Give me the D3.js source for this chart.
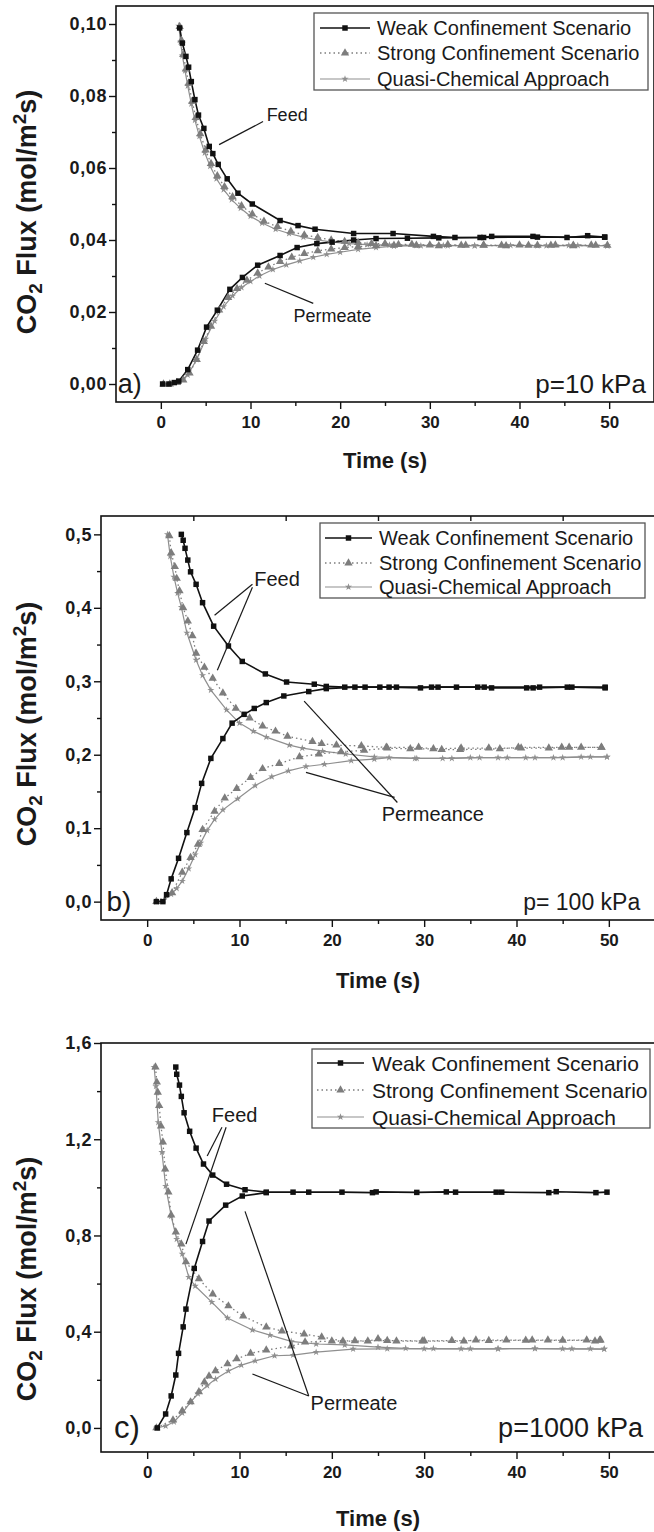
<!DOCTYPE html>
<html>
<head>
<meta charset="utf-8">
<script src="https://cdn.jsdelivr.net/npm/d3@7"></script>
<style>
  body { margin: 0; background: #fff; }
  svg { display: block; font-family: "Liberation Sans", Arial, sans-serif; }
</style>
</head>
<body>
<div id="chart"></div>
<script>
// ---- data: [time (s), CO2 flux (mol/m2 s)] ----
const seriesNames = ['Weak Confinement Scenario', 'Strong Confinement Scenario', 'Quasi-Chemical Approach'];
const xTicks = [0, 10, 20, 30, 40, 50];
const xMinor = [5, 15, 25, 35, 45];

// panel a) p = 10 kPa
const aYTicks = [0, 0.02, 0.04, 0.06, 0.08, 0.10];
const aYMinor = [0.01, 0.03, 0.05, 0.07, 0.09];
const aWeakFeed = [[2.1,0.0989],[2.4,0.0947],[2.8,0.091],[3.1,0.088],[3.4,0.084],[3.8,0.079],[4.2,0.0747],[4.8,0.071],[5.4,0.066],[5.8,0.064],[6.4,0.061],[7.4,0.057],[8.6,0.053],[10.2,0.050],[13.3,0.0454],[15.3,0.044],[17.2,0.043],[21.5,0.0418],[25.9,0.0418],[30.4,0.041],[32.8,0.0407],[35.6,0.0407],[36.9,0.041],[41.5,0.041],[45.3,0.0407],[47.6,0.0412],[49.5,0.0408]];
const aWeakPerm = [[0.2,0],[0.9,0],[1.5,0.0004],[2.0,0.0008],[3.0,0.004],[4.1,0.0094],[5.1,0.0158],[6.3,0.0205],[7.7,0.0263],[9.1,0.0296],[10.8,0.033],[13.3,0.0357],[15.2,0.0379],[17.4,0.039],[19.1,0.0394],[21.5,0.040],[24.0,0.0404],[27.5,0.0405],[31.0,0.0406],[36.0,0.0407],[42.0,0.0408],[49.5,0.0408]];
const aStrongFeed = [[2.1,0.0993],[2.3,0.0955],[2.5,0.0915],[2.8,0.0875],[3.1,0.0835],[3.5,0.0785],[3.9,0.074],[4.4,0.0695],[5.0,0.065],[5.6,0.0612],[6.3,0.0578],[7.1,0.0548],[8.0,0.052],[9.0,0.0495],[10.2,0.0472],[11.5,0.0452],[13.0,0.0437],[14.5,0.0424],[16.0,0.0414],[17.5,0.0407],[19.0,0.040],[20.5,0.0396],[22.0,0.0393],[23.5,0.039],[25.0,0.039],[26.5,0.0387],[28.0,0.0388],[30.0,0.0386],[32.0,0.0387],[34.0,0.0385],[36.0,0.0386],[38.0,0.0385],[40.0,0.0386],[42.0,0.0385],[44.0,0.0386],[46.0,0.0385],[48.0,0.0386],[49.8,0.0385]];
const aStrongPerm = [[0.3,0],[1.0,0],[1.8,0.0004],[2.5,0.0011],[3.2,0.003],[4.0,0.0068],[4.8,0.0118],[5.6,0.016],[6.5,0.0205],[7.5,0.024],[8.5,0.0265],[9.6,0.0288],[10.8,0.0308],[12.0,0.0325],[13.3,0.034],[14.6,0.0352],[16.0,0.0362],[17.5,0.037],[19.0,0.0375],[20.5,0.0379],[22.0,0.0382],[24.0,0.0384],[26.0,0.0385],[28.5,0.0385],[31.0,0.0384],[33.5,0.0385],[36.0,0.0385],[38.5,0.0384],[41.0,0.0385],[43.5,0.0385],[46.0,0.0384],[48.5,0.0385]];
const aQuasiFeed = [[2.0,0.0995],[2.2,0.095],[2.4,0.0912],[2.7,0.087],[3.0,0.0828],[3.4,0.0778],[3.8,0.0733],[4.3,0.0688],[4.9,0.0642],[5.5,0.0605],[6.2,0.057],[7.0,0.054],[7.9,0.0512],[8.9,0.0488],[10.0,0.0466],[11.3,0.0447],[12.8,0.043],[14.3,0.0418],[15.9,0.0408],[17.5,0.040],[19.2,0.0394],[21.0,0.039],[23.0,0.0387],[25.5,0.0386],[28.5,0.0385],[31.5,0.0385],[35.0,0.0384],[38.5,0.0385],[42.0,0.0384],[45.5,0.0385],[49.8,0.0384]];
const aQuasiPerm = [[0.3,0],[1.0,0],[2.0,0.0005],[3.0,0.0025],[4.0,0.0068],[5.0,0.0125],[6.0,0.0175],[7.0,0.0215],[8.0,0.0245],[9.0,0.0268],[10.0,0.0285],[11.0,0.030],[12.5,0.0318],[14.0,0.0331],[15.5,0.0342],[17.0,0.0352],[18.5,0.036],[20.0,0.0366],[22.0,0.0374],[24.0,0.0379],[26.0,0.0383],[29.0,0.0384],[32.0,0.0384],[35.0,0.0384],[39.0,0.0385],[43.0,0.0384],[46.5,0.0385],[49.8,0.0384]];
const aLabels = [['Feed', 11.8, 0.0748], ['Permeate', 14.8, 0.0188]];
const aLeaders = [[[6.5,0.0665],[11.4,0.0729]], [[11.6,0.028],[17.0,0.0224]]];

// panel b) p = 100 kPa
const bYTicks = [0, 0.1, 0.2, 0.3, 0.4, 0.5];
const bYMinor = [0.05, 0.15, 0.25, 0.35, 0.45];
const bWeakFeed = [[3.7,0.500],[3.9,0.492],[4.1,0.481],[4.4,0.465],[4.7,0.449],[5.3,0.432],[6.0,0.407],[7.2,0.375],[8.8,0.348],[10.3,0.327],[12.8,0.310],[15.1,0.299],[18.1,0.296],[19.4,0.293],[21.4,0.292],[23.6,0.292],[25.2,0.292],[26.2,0.292],[29.6,0.291],[30.8,0.292],[33.5,0.292],[35.8,0.292],[37.3,0.291],[41.1,0.291],[41.8,0.291],[45.5,0.292],[46.0,0.292],[49.6,0.291]];
const bWeakPerm = [[1.0,0],[1.7,0],[2.1,0.0095],[2.6,0.031],[3.4,0.059],[4.3,0.094],[5.2,0.128],[5.9,0.161],[6.9,0.195],[8.2,0.222],[9.2,0.243],[10.5,0.255],[11.6,0.263],[12.9,0.271],[14.8,0.280],[17.5,0.286],[19.4,0.290],[22.5,0.292],[27.0,0.292],[31.5,0.292],[36.5,0.292],[42.5,0.292],[49.6,0.292]];
const bStrongFeed = [[2.4,0.498],[2.6,0.475],[3.0,0.456],[3.2,0.440],[3.5,0.423],[3.9,0.400],[4.4,0.382],[4.9,0.362],[5.3,0.338],[6.2,0.319],[7.1,0.304],[8.2,0.284],[9.6,0.263],[11.1,0.250],[12.5,0.239],[13.9,0.232],[15.2,0.225],[17.9,0.218],[18.9,0.215],[20.5,0.213],[23.2,0.212],[25.9,0.210],[29.4,0.210],[31.9,0.207],[33.9,0.207],[38.2,0.208],[40.2,0.210],[44.9,0.210],[45.7,0.210],[49.2,0.210]];
const bStrongPerm = [[1.0,0],[2.7,0.012],[3.8,0.040],[4.7,0.060],[5.5,0.078],[6.0,0.098],[7.3,0.123],[8.4,0.141],[9.7,0.154],[11.2,0.169],[12.5,0.181],[14.3,0.188],[16.5,0.197],[18.6,0.201],[21.0,0.204],[23.5,0.206],[26.0,0.209],[28.5,0.208],[31.0,0.208],[34.0,0.209],[37.0,0.209],[40.5,0.209],[43.5,0.209],[47.0,0.210],[49.2,0.210]];
const bQuasiFeed = [[2.2,0.500],[2.5,0.470],[2.9,0.442],[3.3,0.420],[3.7,0.401],[4.3,0.366],[5.3,0.329],[6.0,0.308],[6.9,0.288],[8.6,0.261],[10.0,0.243],[11.5,0.232],[12.9,0.224],[15.4,0.213],[16.8,0.209],[19.0,0.205],[21.5,0.201],[24.6,0.197],[29.2,0.195],[33.0,0.195],[36.0,0.196],[39.0,0.196],[42.0,0.196],[45.0,0.196],[48.0,0.197],[49.8,0.197]];
const bQuasiPerm = [[1.0,0],[1.8,0.002],[2.6,0.010],[3.2,0.018],[3.8,0.028],[4.5,0.045],[5.2,0.064],[5.8,0.080],[6.5,0.097],[7.3,0.112],[8.2,0.125],[9.8,0.140],[11.7,0.158],[13.5,0.170],[15.3,0.178],[17.2,0.184],[19.2,0.187],[22.1,0.192],[24.6,0.194],[26.2,0.196],[29.0,0.195],[32.0,0.195],[35.0,0.196],[38.0,0.196],[41.0,0.196],[44.0,0.196],[47.0,0.197],[49.8,0.197]];
const bLabels = [['Feed', 11.6, 0.439], ['Permeance', 25.4, 0.119]];
const bLeaders = [[[11.4,0.432],[7.3,0.390]], [[11.4,0.428],[7.6,0.315]], [[27.1,0.135],[17.0,0.273]], [[26.8,0.142],[17.2,0.176]]];

// panel c) p = 1000 kPa
const cYTicks = [0, 0.4, 0.8, 1.2, 1.6];
const cYMinor = [0.2, 0.6, 1.0, 1.4];
const cWeakFeed = [[3.1,1.500],[3.2,1.470],[3.5,1.425],[3.7,1.378],[4.0,1.310],[4.6,1.233],[5.3,1.163],[6.1,1.097],[7.1,1.051],[8.6,1.013],[10.6,0.990],[12.9,0.980],[15.8,0.980],[17.5,0.980],[21.1,0.980],[24.4,0.978],[24.8,0.981],[29.2,0.979],[32.4,0.981],[33.4,0.980],[37.8,0.980],[38.4,0.980],[43.5,0.978],[44.3,0.982],[48.6,0.978],[49.8,0.980]];
const cWeakPerm = [[1.1,0],[2.0,0.058],[2.6,0.133],[3.1,0.220],[3.4,0.310],[3.9,0.420],[4.2,0.494],[5.1,0.663],[6.0,0.775],[6.7,0.860],[8.5,0.926],[10.3,0.964],[12.9,0.978]];
const cStrongFeed = [[0.9,1.500],[1.05,1.437],[1.15,1.395],[1.3,1.340],[1.5,1.255],[1.7,1.188],[1.95,1.076],[2.3,0.980],[2.6,0.885],[3.1,0.814],[3.7,0.764],[4.2,0.690],[5.6,0.620],[7.1,0.556],[8.8,0.507],[10.4,0.465],[12.9,0.419],[14.6,0.403],[17.0,0.390],[18.9,0.378],[21.2,0.361],[23.9,0.361],[25.0,0.370],[27.0,0.361],[29.8,0.361],[34.3,0.361],[35.6,0.365],[38.9,0.365],[41.7,0.365],[43.4,0.365],[47.6,0.365],[48.5,0.361],[49.1,0.365]];
const cStrongPerm = [[1.0,0],[2.8,0.033],[3.8,0.071],[4.7,0.108],[5.6,0.150],[6.2,0.191],[6.7,0.216],[7.4,0.237],[8.7,0.266],[9.7,0.287],[11.2,0.310],[12.9,0.324],[15.6,0.340],[17.1,0.357],[20.0,0.361],[22.5,0.362],[26.0,0.363],[30.0,0.362],[33.0,0.363],[37.0,0.363],[41.0,0.364],[45.0,0.364],[49.0,0.364]];
const cQuasiFeed = [[0.75,1.500],[0.95,1.420],[1.2,1.270],[1.6,1.146],[2.0,1.005],[2.6,0.880],[3.2,0.785],[3.8,0.723],[4.5,0.627],[5.2,0.590],[7.0,0.523],[8.7,0.457],[11.4,0.407],[13.3,0.386],[15.6,0.360],[18.3,0.349],[21.4,0.345],[25.0,0.336],[28.0,0.331],[31.0,0.330],[35.0,0.329],[38.0,0.329],[42.0,0.330],[45.0,0.329],[48.0,0.329],[49.5,0.328]];
const cQuasiPerm = [[1.0,0],[2.0,0.008],[2.9,0.025],[3.8,0.062],[4.7,0.107],[5.5,0.142],[6.5,0.176],[7.4,0.203],[8.8,0.237],[10.2,0.261],[11.7,0.279],[13.8,0.300],[15.8,0.303],[18.3,0.315],[22.3,0.328],[26.0,0.329],[30.0,0.329],[34.0,0.329],[38.0,0.329],[42.0,0.330],[46.0,0.329],[49.5,0.328]];
const cLabels = [['Feed', 7.0, 1.30], ['Permeate', 17.7, 0.104]];
const cLeaders = [[[8.1,1.25],[6.5,1.13]], [[8.55,1.25],[4.2,0.764]], [[17.5,0.133],[11.4,0.224]], [[17.5,0.133],[10.6,0.90]]];

// ---- layout / styles ----
const W = 654, H = 1532;
const colors = { weak: '#111', strong: '#7d7d7d', quasi: '#8f8f8f', text: '#1a1a1a', frame: '#111', legend: '#555' };

const panels = [
  { frame: { left: 116, right: 654, top: 6, bottom: 402 }, yDomain: [-0.005, 0.105], yTicks: aYTicks, yMinor: aYMinor, digits: 2,
    weak: [aWeakFeed, aWeakPerm], strong: [aStrongFeed, aStrongPerm], quasi: [aQuasiFeed, aQuasiPerm],
    labels: aLabels, leaders: aLeaders, noteSize: 18, topTicks: false,
    tag: 'a)', tagX: -4.8, tagSize: 27, pText: 'p=10 kPa', pSize: 26, pX: 54.1,
    legend: { x: 314, y: 13, w: 334, h: 77, rows: [15, 40, 66], textX: 63, s0: 6, s1: 56, font: 20 },
    titleY: 212, xTitleY: 460 },
  { frame: { left: 101, right: 655, top: 516, bottom: 920 }, yDomain: [-0.025, 0.525], yTicks: bYTicks, yMinor: bYMinor, digits: 1,
    weak: [bWeakFeed, bWeakPerm], strong: [bStrongFeed, bStrongPerm], quasi: [bQuasiFeed, bQuasiPerm],
    labels: bLabels, leaders: bLeaders, noteSize: 20, topTicks: true,
    tag: 'b)', tagX: -4.4, tagSize: 28, pText: 'p= 100 kPa', pSize: 23, pX: 53.4,
    legend: { x: 320, y: 523, w: 325, h: 75, rows: [15, 40, 64], textX: 59, s0: 5, s1: 52, font: 20 },
    titleY: 724, xTitleY: 980 },
  { frame: { left: 101, right: 655, top: 1043, bottom: 1452 }, yDomain: [-0.1, 1.6], yTicks: cYTicks, yMinor: cYMinor, digits: 1,
    weak: [cWeakFeed, cWeakPerm], strong: [cStrongFeed, cStrongPerm], quasi: [cQuasiFeed, cQuasiPerm],
    labels: cLabels, leaders: cLeaders, noteSize: 20, topTicks: false,
    tag: 'c)', tagX: -3.6, tagSize: 31, pText: 'p=1000 kPa', pSize: 27, pX: 53.7,
    legend: { x: 312, y: 1049, w: 338, h: 79, rows: [14, 41, 68], textX: 60, s0: 5, s1: 52, font: 21 },
    titleY: 1279, xTitleY: 1518 }
];

const svg = d3.select('#chart').append('svg')
  .attr('width', W).attr('height', H);

function commaFormat(digits) {
  const f = d3.format('.' + digits + 'f');
  return d => f(d).replace('.', ',');
}

const symWeak = d3.symbol().type(d3.symbolSquare).size(30)();
const symStrong = d3.symbol().type(d3.symbolTriangle).size(30)();
const symQuasi = d3.symbol().type(d3.symbolStar).size(16)();

panels.forEach(p => {
  const f = p.frame;
  const x = d3.scaleLinear().domain([-5, 55]).range([f.left, f.right]);
  const y = d3.scaleLinear().domain(p.yDomain).range([f.bottom, f.top]);
  const g = svg.append('g');

  // axes
  g.append('g').attr('class', 'yaxis').attr('transform', `translate(${f.left},0)`)
    .call(d3.axisLeft(y).tickValues(p.yTicks).tickSize(7).tickPadding(2).tickFormat(commaFormat(p.digits)).tickSizeOuter(0));
  g.append('g').attr('transform', `translate(${f.left},0)`)
    .call(d3.axisLeft(y).tickValues(p.yMinor).tickSize(4).tickFormat('').tickSizeOuter(0));
  g.append('g').attr('class', 'xaxis').attr('transform', `translate(0,${f.bottom})`)
    .call(d3.axisBottom(x).tickValues(xTicks).tickSize(7).tickPadding(7).tickSizeOuter(0));
  g.append('g').attr('transform', `translate(0,${f.bottom})`)
    .call(d3.axisBottom(x).tickValues(xMinor).tickSize(4).tickFormat('').tickSizeOuter(0));
  if (p.topTicks) {
    g.append('g').attr('transform', `translate(0,${f.top})`)
      .call(d3.axisBottom(x).tickValues(xMinor).tickSize(5).tickFormat('').tickSizeOuter(0));
  }
  g.selectAll('.domain').remove();
  g.selectAll('.tick line').attr('stroke', colors.frame).attr('stroke-width', 1.4);
  g.selectAll('.tick text').attr('font-weight', 'bold').attr('fill', colors.text)
    .attr('font-family', '"Liberation Sans", Arial, sans-serif');
  g.selectAll('.xaxis .tick text').attr('font-size', 17);
  g.selectAll('.yaxis .tick text').attr('font-size', 18).attr('letter-spacing', 0.6);

  // frame
  g.append('rect')
    .attr('x', f.left).attr('y', f.top)
    .attr('width', f.right - f.left).attr('height', f.bottom - f.top)
    .attr('fill', 'none').attr('stroke', colors.frame).attr('stroke-width', 1.6);

  // axis titles
  g.append('text')
    .attr('x', (f.left + f.right) / 2).attr('y', p.xTitleY)
    .attr('text-anchor', 'middle').attr('dominant-baseline', 'central')
    .attr('font-size', 22).attr('font-weight', 'bold').attr('fill', colors.text)
    .text('Time (s)');

  const yt = g.append('text')
    .attr('transform', `translate(36,${p.titleY}) rotate(-90)`)
    .attr('text-anchor', 'middle')
    .attr('font-size', 27).attr('font-weight', 'bold').attr('fill', colors.text);
  yt.append('tspan').text('CO');
  yt.append('tspan').attr('font-size', 19).attr('dy', 6).text('2');
  yt.append('tspan').attr('dy', -6).text(' Flux (mol/m');
  yt.append('tspan').attr('font-size', 19).attr('dy', -10).text('2');
  yt.append('tspan').attr('dy', 10).text('s)');

  // series
  const line = d3.line().x(d => x(d[0])).y(d => y(d[1]));
  const plot = g.append('g');

  p.quasi.forEach(s => {
    plot.append('path').datum(s).attr('d', line)
      .attr('fill', 'none').attr('stroke', colors.quasi).attr('stroke-width', 1.2);
  });
  p.strong.forEach(s => {
    plot.append('path').datum(s).attr('d', line)
      .attr('fill', 'none').attr('stroke', colors.strong).attr('stroke-width', 1.3)
      .attr('stroke-dasharray', '1.5,3');
  });
  p.weak.forEach(s => {
    plot.append('path').datum(s).attr('d', line)
      .attr('fill', 'none').attr('stroke', colors.weak).attr('stroke-width', 1.6);
  });
  p.quasi.forEach(s => {
    plot.append('g').selectAll('path').data(s).join('path')
      .attr('transform', d => `translate(${x(d[0])},${y(d[1])})`)
      .attr('d', symQuasi).attr('fill', colors.quasi);
  });
  p.strong.forEach(s => {
    plot.append('g').selectAll('path').data(s).join('path')
      .attr('transform', d => `translate(${x(d[0])},${y(d[1])})`)
      .attr('d', symStrong).attr('fill', colors.strong);
  });
  p.weak.forEach(s => {
    plot.append('g').selectAll('path').data(s).join('path')
      .attr('transform', d => `translate(${x(d[0])},${y(d[1])})`)
      .attr('d', symWeak).attr('fill', colors.weak);
  });

  // annotations
  p.leaders.forEach(l => {
    g.append('line')
      .attr('x1', x(l[0][0])).attr('y1', y(l[0][1]))
      .attr('x2', x(l[1][0])).attr('y2', y(l[1][1]))
      .attr('stroke', colors.text).attr('stroke-width', 1.2);
  });
  p.labels.forEach(l => {
    g.append('text')
      .attr('x', x(l[1])).attr('y', y(l[2]))
      .attr('dominant-baseline', 'central')
      .attr('font-size', p.noteSize).attr('fill', colors.text)
      .text(l[0]);
  });
  g.append('text')
    .attr('x', x(p.tagX)).attr('y', y(0))
    .attr('dominant-baseline', 'central')
    .attr('font-size', p.tagSize).attr('fill', colors.text)
    .text(p.tag);
  g.append('text')
    .attr('x', x(p.pX)).attr('y', y(0))
    .attr('text-anchor', 'end').attr('dominant-baseline', 'central')
    .attr('font-size', p.pSize).attr('fill', colors.text)
    .text(p.pText);

  // legend
  const L = p.legend;
  const lg = g.append('g').attr('transform', `translate(${L.x},${L.y})`);
  lg.append('rect').attr('width', L.w).attr('height', L.h)
    .attr('fill', '#fff').attr('stroke', colors.legend).attr('stroke-width', 1.3);
  const styles = [
    { stroke: colors.weak, width: 1.6, dash: null, sym: symWeak },
    { stroke: colors.strong, width: 1.3, dash: '1.5,3', sym: symStrong },
    { stroke: colors.quasi, width: 1.2, dash: null, sym: symQuasi }
  ];
  seriesNames.forEach((name, i) => {
    const ry = L.rows[i];
    lg.append('line').attr('x1', L.s0).attr('x2', L.s1).attr('y1', ry).attr('y2', ry)
      .attr('stroke', styles[i].stroke).attr('stroke-width', styles[i].width)
      .attr('stroke-dasharray', styles[i].dash);
    lg.append('path').attr('transform', `translate(${(L.s0 + L.s1) / 2},${ry})`)
      .attr('d', styles[i].sym).attr('fill', styles[i].stroke);
    lg.append('text').attr('x', L.textX).attr('y', ry)
      .attr('dominant-baseline', 'central')
      .attr('font-size', L.font).attr('fill', colors.text)
      .text(name);
  });
});
</script>
</body>
</html>
